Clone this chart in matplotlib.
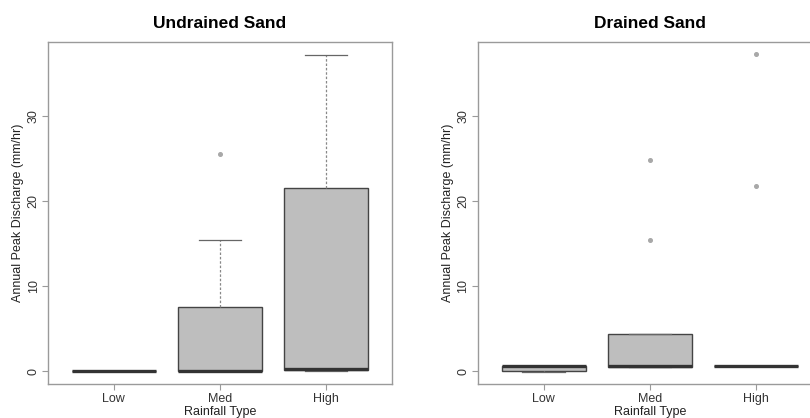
import numpy as np
import matplotlib
matplotlib.use("Agg")
import matplotlib.pyplot as plt

plt.rcParams['font.family'] = ['Liberation Sans', 'DejaVu Sans']

categories = ["Low", "Med", "High"]

# undrained sand box statistics (mm/hr)
und_q1 = [0.0, 0.0, 0.15]
und_med = [0.0, 0.05, 0.3]
und_q3 = [0.0, 7.6, 21.5]
und_lo = [0.0, 0.0, 0.0]
und_hi = [0.0, 15.4, 37.2]
und_out = [[], [25.5], []]

# drained sand
dr_q1 = [0.05, 0.5, 0.6]
dr_med = [0.6, 0.6, 0.6]
dr_q3 = [0.65, 4.4, 0.6]
dr_lo = [-0.05, 0.5, 0.6]
dr_hi = [0.65, 4.4, 0.6]
dr_out = [[], [15.5, 24.8], [21.8, 37.3]]

titles = ["Undrained Sand", "Drained Sand"]


def make_stats(q1, med, q3, lo, hi, out):
    stats = []
    for i in range(len(categories)):
        stats.append(dict(q1=q1[i], med=med[i], q3=q3[i], whislo=lo[i],
                          whishi=hi[i], fliers=out[i], label=categories[i]))
    return stats


fig = plt.figure(figsize=(8.1, 4.18), dpi=100)
ax1 = fig.add_axes([0.0593, 0.0813, 0.4247, 0.818])
ax2 = fig.add_axes([0.5898, 0.0813, 0.4247, 0.818])

frame_col = "#9a9a9a"
all_stats = [make_stats(und_q1, und_med, und_q3, und_lo, und_hi, und_out),
             make_stats(dr_q1, dr_med, dr_q3, dr_lo, dr_hi, dr_out)]

for ax, stats, title in zip([ax1, ax2], all_stats, titles):
    ax.bxp(stats, positions=[1, 2, 3], widths=0.79, patch_artist=True,
           boxprops=dict(facecolor="#bebebe", edgecolor="#444444", linewidth=1.0),
           medianprops=dict(color="#333333", linewidth=2.4),
           whiskerprops=dict(color="#888888", linestyle=(0, (2, 1.5)), linewidth=0.9),
           capprops=dict(color="#666666", linewidth=0.9),
           capwidths=0.4,
           flierprops=dict(marker="o", markersize=2.6, markerfacecolor="#a8a8a8",
                           markeredgecolor="#a8a8a8"))
    ax.set_xlim(0.38, 3.62)
    ax.set_ylim(-1.48, 38.7)
    ax.set_yticks([0, 10, 20, 30])
    ax.set_yticklabels(["0", "10", "20", "30"], rotation=90, va="center")
    ax.set_xticks([1, 2, 3])
    ax.set_xticklabels(categories)
    for s in ax.spines.values():
        s.set_color(frame_col)
        s.set_linewidth(1.0)
    ax.tick_params(colors=frame_col, labelcolor="#333333", labelsize=9, length=4, width=0.8)
    ax.tick_params(axis="y", pad=2)
    ax.tick_params(axis="x", pad=2.5)
    ax.set_title(title, fontsize=12.5, fontweight="bold", pad=10)
    ax.set_ylabel("Annual Peak Discharge (mm/hr)", fontsize=9, color="#222222")
    ax.set_xlabel("Rainfall Type", fontsize=9, color="#222222")
    ax.yaxis.set_label_coords(-0.07, 0.5)
    ax.xaxis.set_label_coords(0.5, -0.064)

fig.savefig("out.png", dpi=100)
